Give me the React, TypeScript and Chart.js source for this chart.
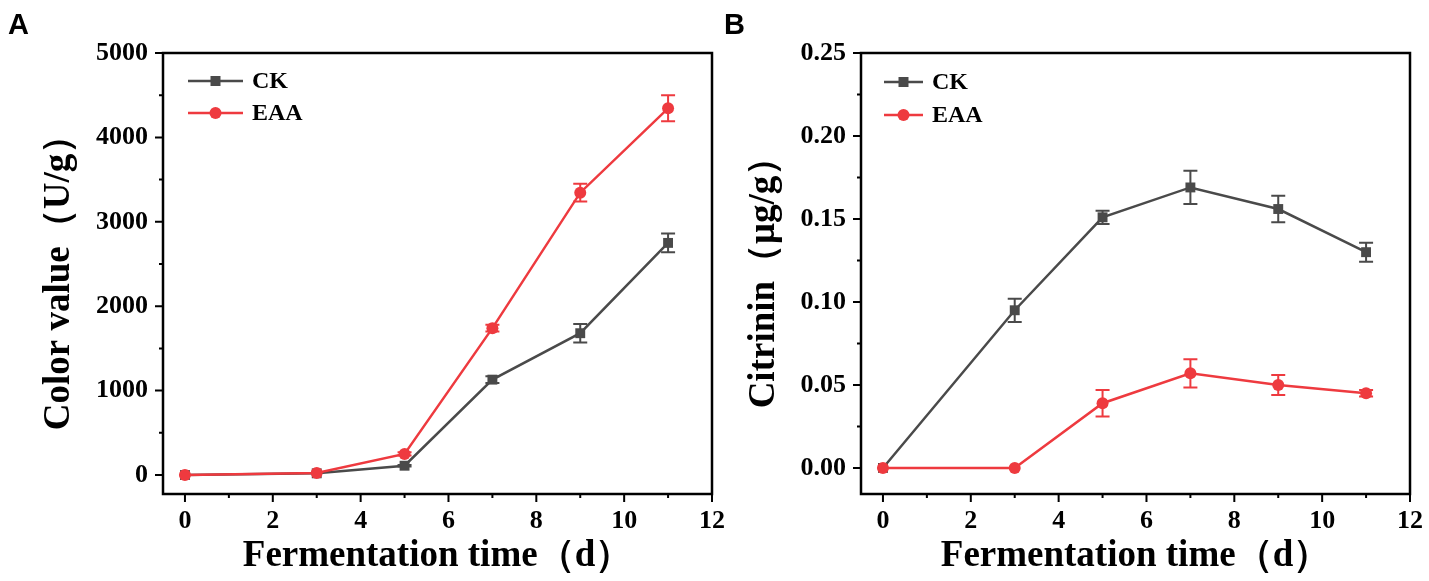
import React, { useEffect, useRef } from "react";
import { Chart, registerables } from "chart.js";

Chart.register(...registerables);

// sampling days (x values shared by both panels)
const days = [0, 3, 5, 7, 9, 11];
const xTicks = [0, 2, 4, 6, 8, 10, 12];

// panel A: colour value (U/g)
const colorCK = [0, 20, 110, 1130, 1680, 2750];
const colorCKErr = [0, 0, 10, 40, 110, 110];
const colorEAA = [0, 25, 250, 1740, 3345, 4345];
const colorEAAErr = [0, 0, 20, 40, 105, 155];
const colorTicks = [0, 1000, 2000, 3000, 4000, 5000];

// panel B: citrinin (ug/g)
const citrininCK = [0, 0.095, 0.151, 0.169, 0.156, 0.13];
const citrininCKErr = [0, 0.007, 0.004, 0.01, 0.008, 0.0057];
const citrininEAA = [0, 0, 0.039, 0.057, 0.05, 0.045];
const citrininEAAErr = [0, 0, 0.008, 0.0085, 0.006, 0.002];
const citrininTicks = [0, 0.05, 0.1, 0.15, 0.2, 0.25];

const GRAY = "#4a4a4a";
const RED = "#ee3a3f";
const SERIF = "'Liberation Serif', 'Times New Roman', serif";
const W = 1429;
const H = 581;

const toPoints = (ys: number[]) => days.map((x, i) => ({ x, y: ys[i] }));

const midpoints = (t: number[]) => t.slice(0, -1).map((v, i) => (v + t[i + 1]) / 2);

const figurePlugin = {
  id: "figure",
  beforeDatasetDraw(chart: any, args: any) {
    const ds = chart.data.datasets[args.index];
    const errs: number[] | undefined = ds.errors;
    if (!errs) return;
    const ctx = chart.ctx;
    const ys = chart.scales.y;
    ctx.save();
    ctx.strokeStyle = ds.borderColor;
    ctx.lineWidth = 2;
    args.meta.data.forEach((pt: any, i: number) => {
      const e = errs[i];
      if (!e) return;
      const v = ds.data[i].y;
      const top = ys.getPixelForValue(v + e);
      const bot = ys.getPixelForValue(v - e);
      ctx.beginPath();
      ctx.moveTo(pt.x, top);
      ctx.lineTo(pt.x, bot);
      ctx.moveTo(pt.x - 7, top);
      ctx.lineTo(pt.x + 7, top);
      ctx.moveTo(pt.x - 7, bot);
      ctx.lineTo(pt.x + 7, bot);
      ctx.stroke();
    });
    ctx.restore();
  },
  afterDraw(chart: any, _args: any, opts: any) {
    const { ctx, chartArea: a } = chart;
    const xs = chart.scales.x;
    const ys = chart.scales.y;
    ctx.save();
    ctx.strokeStyle = "#000";
    ctx.lineWidth = 2;
    ctx.beginPath();
    // outward ticks on the bottom and left axes
    opts.xTicks.forEach((v: number) => {
      const px = xs.getPixelForValue(v);
      ctx.moveTo(px, a.bottom);
      ctx.lineTo(px, a.bottom + 8);
    });
    midpoints(opts.xTicks).forEach((v: number) => {
      const px = xs.getPixelForValue(v);
      ctx.moveTo(px, a.bottom);
      ctx.lineTo(px, a.bottom + 4);
    });
    opts.yTicks.forEach((v: number) => {
      const py = ys.getPixelForValue(v);
      ctx.moveTo(a.left, py);
      ctx.lineTo(a.left - 8, py);
    });
    midpoints(opts.yTicks).forEach((v: number) => {
      const py = ys.getPixelForValue(v);
      ctx.moveTo(a.left, py);
      ctx.lineTo(a.left - 4, py);
    });
    ctx.stroke();

    ctx.lineWidth = 2.5;
    ctx.strokeRect(a.left, a.top, a.right - a.left, a.bottom - a.top);

    // legend in the upper left corner
    const lx = a.left + opts.legendX;
    chart.data.datasets
      .slice()
      .sort((p: any, q: any) => p.legendRow - q.legendRow)
      .forEach((ds: any, i: number) => {
        const ly = a.top + opts.legendY[i];
        ctx.strokeStyle = ds.borderColor;
        ctx.lineWidth = 2.5;
        ctx.beginPath();
        ctx.moveTo(lx, ly);
        ctx.lineTo(lx + opts.legendLen, ly);
        ctx.stroke();
        ctx.fillStyle = ds.backgroundColor;
        const cx = lx + opts.legendLen / 2;
        ctx.beginPath();
        if (ds.pointStyle === "rect") {
          ctx.rect(cx - 5, ly - 5, 10, 10);
        } else {
          ctx.arc(cx, ly, 6, 0, Math.PI * 2);
        }
        ctx.fill();
        ctx.fillStyle = "#000";
        ctx.font = `bold 24px ${SERIF}`;
        ctx.textBaseline = "middle";
        ctx.textAlign = "left";
        ctx.fillText(ds.label, lx + opts.legendLen + 9, ly + 1);
      });
    ctx.restore();
  },
};

interface PanelProps {
  ck: number[];
  ckErr: number[];
  eaa: number[];
  eaaErr: number[];
  yTicks: number[];
  yMin: number;
  yTitle: string;
  decimals: number;
  width: number;
  padLeft: number;
  padRight: number;
  yWidth: number;
  yTitlePad: number;
  legendX: number;
  legendY: number[];
  legendLen: number;
}

function Panel(p: PanelProps) {
  const canvasRef = useRef<HTMLCanvasElement | null>(null);
  const chartRef = useRef<Chart | null>(null);

  useEffect(() => {
    if (!canvasRef.current) return;
    if (chartRef.current) chartRef.current.destroy();
    const ctx = canvasRef.current.getContext("2d");
    if (!ctx) return;

    const tickFont = { family: SERIF, size: 26, weight: "bold" as const };
    const titleFont = { family: SERIF, size: 37, weight: "bold" as const, lineHeight: 1 };

    chartRef.current = new Chart(ctx, {
      type: "line",
      data: {
        datasets: [
          {
            label: "EAA",
            data: toPoints(p.eaa),
            errors: p.eaaErr,
            legendRow: 1,
            order: 0,
            borderColor: RED,
            backgroundColor: RED,
            borderWidth: 2.5,
            pointStyle: "circle",
            pointRadius: 6,
            pointBorderWidth: 0,
            pointBackgroundColor: RED,
            tension: 0,
          } as any,
          {
            label: "CK",
            data: toPoints(p.ck),
            errors: p.ckErr,
            legendRow: 0,
            order: 1,
            borderColor: GRAY,
            backgroundColor: GRAY,
            borderWidth: 2.5,
            pointStyle: "rect",
            pointRadius: 7,
            pointBorderWidth: 0,
            pointBackgroundColor: GRAY,
            tension: 0,
          } as any,
        ],
      },
      options: {
        responsive: false,
        animation: false,
        layout: { padding: { left: p.padLeft, right: p.padRight, top: 53, bottom: 0 } },
        plugins: {
          legend: { display: false },
          tooltip: { enabled: false },
          figure: {
            xTicks,
            yTicks: p.yTicks,
            legendX: p.legendX,
            legendY: p.legendY,
            legendLen: p.legendLen,
          },
        } as any,
        scales: {
          x: {
            type: "linear",
            min: -0.5,
            max: 12,
            grid: { display: false, drawTicks: false },
            border: { display: false },
            afterBuildTicks: (s: any) => {
              s.ticks = xTicks.map(v => ({ value: v }));
            },
            afterFit: (s: any) => {
              s.height = 87;
            },
            ticks: { color: "#000", font: tickFont, padding: 12, maxRotation: 0 },
            title: {
              display: true,
              text: "Fermentation time（d）",
              color: "#000",
              font: titleFont,
              padding: { top: 0, bottom: 6 },
            },
          },
          y: {
            type: "linear",
            min: p.yMin,
            max: p.yTicks[p.yTicks.length - 1],
            grid: { display: false, drawTicks: false },
            border: { display: false },
            afterBuildTicks: (s: any) => {
              s.ticks = p.yTicks.map(v => ({ value: v }));
            },
            afterFit: (s: any) => {
              s.width = p.yWidth;
            },
            ticks: {
              color: "#000",
              font: tickFont,
              padding: 15,
              callback: (v: any) => Number(v).toFixed(p.decimals),
            },
            title: {
              display: true,
              text: p.yTitle,
              color: "#000",
              font: titleFont,
              padding: { top: p.yTitlePad, bottom: 0 },
            },
          },
        },
      },
      plugins: [figurePlugin as any],
    });

    return () => {
      if (chartRef.current) {
        chartRef.current.destroy();
        chartRef.current = null;
      }
    };
  }, []);

  return (
    <canvas
      ref={canvasRef}
      width={p.width}
      height={H}
      style={{ position: "absolute", left: 0, top: 0, width: p.width, height: H }}
    />
  );
}

export default function App() {
  useEffect(() => {
    document.body.style.margin = "0";
    document.body.style.background = "#fff";
  }, []);

  const letter: React.CSSProperties = {
    position: "absolute",
    top: 10,
    fontFamily: "'Liberation Sans', Arial, sans-serif",
    fontWeight: "bold",
    fontSize: 29,
    lineHeight: "29px",
    color: "#000",
  };

  const wideB = W + 12;

  return (
    <div style={{ position: "relative", width: W, height: H, background: "#fff", overflow: "hidden" }}>
      <Panel
        ck={colorCK}
        ckErr={colorCKErr}
        eaa={colorEAA}
        eaaErr={colorEAAErr}
        yTicks={colorTicks}
        yMin={-225}
        yTitle="Color value（U/g）"
        decimals={0}
        width={W}
        padLeft={0}
        padRight={W - 712}
        yWidth={163}
        yTitlePad={41}
        legendX={25}
        legendY={[28, 60]}
        legendLen={55}
      />
      <Panel
        ck={citrininCK}
        ckErr={citrininCKErr}
        eaa={citrininEAA}
        eaaErr={citrininEAAErr}
        yTicks={citrininTicks}
        yMin={-0.0157}
        yTitle="Citrinin（μg/g）"
        decimals={2}
        width={wideB}
        padLeft={700}
        padRight={wideB - 1410}
        yWidth={161}
        yTitlePad={46}
        legendX={23}
        legendY={[29, 62]}
        legendLen={39}
      />
      <div style={{ ...letter, left: 8 }}>A</div>
      <div style={{ ...letter, left: 724 }}>B</div>
    </div>
  );
}
